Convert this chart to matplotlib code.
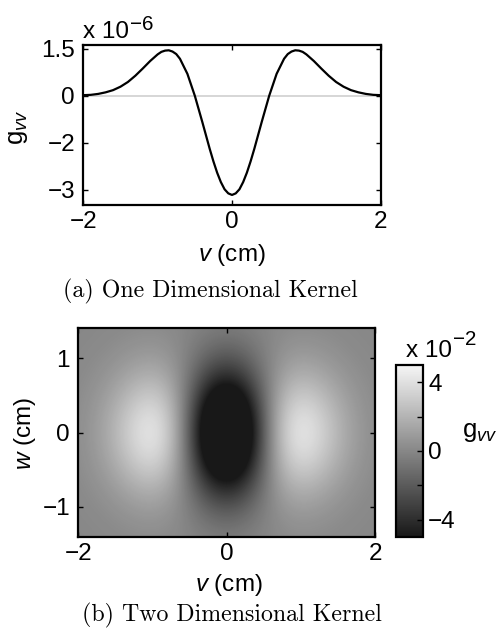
import numpy as np
import matplotlib
matplotlib.use('Agg')
import matplotlib.pyplot as plt
from matplotlib.colors import LinearSegmentedColormap

plt.rcParams['font.family'] = ['Liberation Sans', 'DejaVu Sans']
plt.rcParams['mathtext.fontset'] = 'custom'
plt.rcParams['mathtext.rm'] = 'Liberation Sans'
plt.rcParams['mathtext.it'] = 'Liberation Sans:italic'

# (a) 1D kernel, g_vv in units of 1e-6
v_1d = [-2.0, -1.9, -1.8, -1.7, -1.6, -1.5, -1.4, -1.3, -1.2, -1.1, -1.0,
        -0.95, -0.9, -0.85, -0.8, -0.75, -0.7, -0.6, -0.5, -0.4, -0.35,
        -0.3, -0.25, -0.2, -0.15, -0.1, -0.05, 0.0,
        0.05, 0.1, 0.15, 0.2, 0.25, 0.3, 0.35, 0.4, 0.5, 0.6, 0.7, 0.75,
        0.8, 0.85, 0.9, 0.95, 1.0, 1.1, 1.2, 1.3, 1.4, 1.5, 1.6, 1.7, 1.8,
        1.9, 2.0]
g_1d = [0.02, 0.03, 0.06, 0.11, 0.18, 0.29, 0.44, 0.64, 0.87, 1.11, 1.32,
        1.40, 1.44, 1.45, 1.41, 1.33, 1.18, 0.70, 0.0, -0.83, -1.26,
        -1.69, -2.09, -2.45, -2.75, -2.98, -3.11, -3.16,
        -3.11, -2.98, -2.75, -2.45, -2.09, -1.69, -1.26, -0.83, 0.0, 0.70,
        1.18, 1.33, 1.41, 1.45, 1.44, 1.40, 1.32, 1.11, 0.87, 0.64, 0.44,
        0.29, 0.18, 0.11, 0.06, 0.03, 0.02]
yticks_1d = [-3, -1.5, 0, 1.5]
yticklabels_1d = ['\u22123', '\u22122', '0', '1.5']

# (b) 2D kernel, units of 1e-2: profile along v at w=0 and falloff along w
v_2d = [-2.0, -1.9, -1.8, -1.7, -1.6, -1.5, -1.4, -1.3, -1.2, -1.1, -1.0,
        -0.9, -0.8, -0.7, -0.6, -0.5, -0.4, -0.3, -0.2, -0.1, 0.0,
        0.1, 0.2, 0.3, 0.4, 0.5, 0.6, 0.7, 0.8, 0.9, 1.0,
        1.1, 1.2, 1.3, 1.4, 1.5, 1.6, 1.7, 1.8, 1.9, 2.0]
g_v_profile = [0.35, 0.54, 0.80, 1.14, 1.57, 2.08, 2.63, 3.18, 3.65, 3.96, 3.99,
               3.65, 2.88, 1.65, 0.0, -1.94, -4.00, -5.96, -7.57, -8.63, -9.00,
               -8.63, -7.57, -5.96, -4.00, -1.94, 0.0, 1.65, 2.88, 3.65, 3.99,
               3.96, 3.65, 3.18, 2.63, 2.08, 1.57, 1.14, 0.80, 0.54, 0.35]
w_2d = [-1.4, -1.3, -1.2, -1.1, -1.0, -0.9, -0.8, -0.7, -0.6, -0.5, -0.4,
        -0.3, -0.2, -0.1, 0.0, 0.1, 0.2, 0.3, 0.4, 0.5, 0.6, 0.7, 0.8, 0.9,
        1.0, 1.1, 1.2, 1.3, 1.4]
w_weight = [0.066, 0.096, 0.135, 0.186, 0.249, 0.325, 0.411, 0.506, 0.607,
            0.707, 0.801, 0.882, 0.946, 0.986, 1.0, 0.986, 0.946, 0.882,
            0.801, 0.707, 0.607, 0.506, 0.411, 0.325, 0.249, 0.186, 0.135,
            0.096, 0.066]
clim_2d = (-5, 5)
cbar_ticks = [-4, -2, 0, 2, 4]
cbar_ticklabels = ['\u22124', '', '0', '', '4']

FS = 17.5

fig = plt.figure(figsize=(5.03, 6.36), dpi=100)

# ---- (a) one dimensional kernel
ax1 = fig.add_axes([0.1656, 0.6777, 0.5913, 0.2516])
ax1.plot([-2, 2], [0, 0], color='#d0d0d0', lw=1.2, zorder=1)
ax1.plot(v_1d, g_1d, color='black', lw=1.6, zorder=2)
ax1.set_xlim(-2, 2)
ax1.set_ylim(-3.48, 1.62)
ax1.set_xticks([-2, 0, 2])
ax1.set_xticklabels(['\u22122', '0', '2'])
ax1.set_yticks(yticks_1d)
ax1.set_yticklabels(yticklabels_1d)
ax1.set_xlabel(r'$v$ (cm)', fontsize=FS)
ax1.set_ylabel(r'$\mathrm{g}_{vv}$', fontsize=FS + 1)
ax1.xaxis.set_label_coords(0.5, -0.3115)
ax1.xaxis.label.set_va('center')
ax1.yaxis.set_label_coords(-0.2196, 0.486)
ax1.yaxis.label.set_va('center')
# multiplier "x 10^-6"
fig.text(0.165, 0.9398, 'x 10', fontsize=FS, ha='left', va='baseline')
fig.text(0.2584, 0.9528, '\u22126', fontsize=FS * 0.85, ha='left', va='baseline')

# ---- (b) two dimensional kernel
ax2 = fig.add_axes([0.1557, 0.1561, 0.5899, 0.3277])
grid = np.outer(w_weight, g_v_profile)
dv = v_2d[1] - v_2d[0]
dw = w_2d[1] - w_2d[0]
cmap = LinearSegmentedColormap.from_list('kgray', ['#181818', '#f6f6f6'])
im = ax2.imshow(grid, origin='lower', cmap=cmap, vmin=clim_2d[0], vmax=clim_2d[1],
                extent=(v_2d[0] - dv / 2, v_2d[-1] + dv / 2,
                        w_2d[0] - dw / 2, w_2d[-1] + dw / 2),
                aspect='auto', interpolation='bicubic')
ax2.set_xlim(-2, 2)
ax2.set_ylim(-1.4, 1.4)
ax2.set_xticks([-2, 0, 2])
ax2.set_xticklabels(['\u22122', '0', '2'])
ax2.set_yticks([-1, 0, 1])
ax2.set_yticklabels(['\u22121', '0', '1'])
ax2.set_xlabel(r'$v$ (cm)', fontsize=FS)
ax2.set_ylabel(r'$w$ (cm)', fontsize=FS)
ax2.xaxis.set_label_coords(0.508, -0.232)
ax2.xaxis.label.set_va('center')
ax2.yaxis.set_label_coords(-0.18, 0.4976)
ax2.yaxis.label.set_va('center')

for ax in (ax1, ax2):
    ax.tick_params(direction='in', top=True, right=True, length=3.5,
                   width=1.0, labelsize=FS)
    ax.tick_params(axis='x', pad=4.5)
    ax.tick_params(axis='y', pad=6)
    for s in ax.spines.values():
        s.set_linewidth(1.6)

cax = fig.add_axes([0.7873, 0.1561, 0.0531, 0.270])
cb = fig.colorbar(im, cax=cax)
cb.set_ticks(cbar_ticks)
cb.set_ticklabels(cbar_ticklabels)
cax.tick_params(direction='in', length=4, width=1.0, labelsize=FS, pad=4)
cb.outline.set_linewidth(1.6)
fig.text(0.807, 0.4387, 'x 10', fontsize=FS, ha='left', va='baseline')
fig.text(0.9006, 0.4575, '\u22122', fontsize=FS * 0.85, ha='left', va='baseline')
fig.text(0.918, 0.3134, r'$\mathrm{g}_{vv}$', fontsize=FS + 1, ha='left', va='baseline')

# captions
fig.text(0.1252, 0.5413, '(a) One Dimensional Kernel', family='cmr10',
         fontsize=17.2, ha='left', va='center')
fig.text(0.163, 0.033, '(b) Two Dimensional Kernel', family='cmr10',
         fontsize=17.2, ha='left', va='center')

fig.savefig('out.png', dpi=100)
